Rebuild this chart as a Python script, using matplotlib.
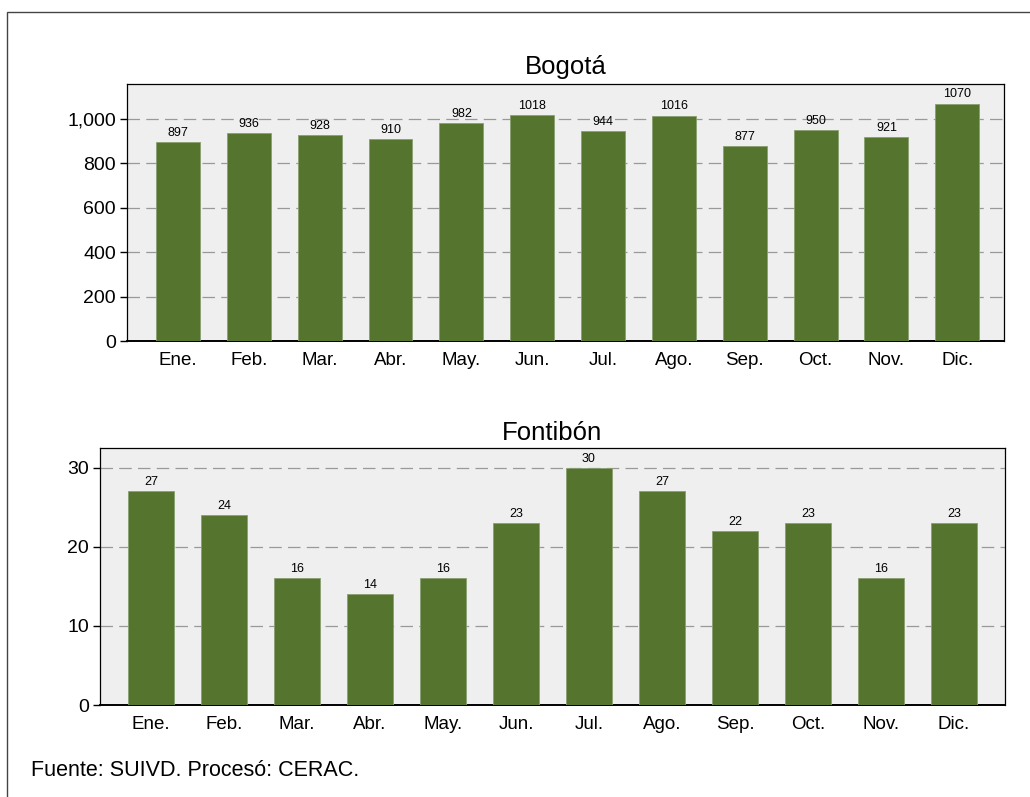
import numpy as np
import matplotlib.pyplot as plt
from matplotlib.patches import Rectangle

plt.rcParams['font.family'] = ['Liberation Sans', 'DejaVu Sans']

meses = ["Ene.", "Feb.", "Mar.", "Abr.", "May.", "Jun.", "Jul.", "Ago.", "Sep.", "Oct.", "Nov.", "Dic."]
bogota = [897, 936, 928, 910, 982, 1018, 944, 1016, 877, 950, 921, 1070]
fontibon = [27, 24, 16, 14, 16, 23, 30, 27, 22, 23, 16, 23]

verde = "#55752f"
fondo = "#efefef"

fig = plt.figure(figsize=(10.3, 7.97), dpi=100)
W, H = 1030, 797

# marco exterior
fig.patches.append(Rectangle((7 / W, -0.01), 1.02, 1 - 12 / H + 0.01, transform=fig.transFigure,
                             fill=False, edgecolor="#444444", linewidth=1.0))


def panel(rect, valores, ymax, yticks, ylabels, titulo, xmargen, pad):
    ax = fig.add_axes(rect)
    x = np.arange(len(meses))
    ax.set_facecolor(fondo)
    ax.bar(x, valores, width=0.62, color=verde, edgecolor="#8aa070", linewidth=0.6, zorder=3)
    for xi, v in zip(x, valores):
        ax.text(xi, v + ymax * 0.012, str(v), ha="center", va="bottom", fontsize=9, zorder=4)
    ax.set_xlim(-xmargen[0], len(meses) - 1 + xmargen[1])
    ax.set_ylim(0, ymax)
    ax.set_yticks(yticks)
    ax.set_yticklabels(ylabels, fontsize=14)
    ax.set_xticks(x)
    ax.set_xticklabels(meses, fontsize=13.5)
    ax.tick_params(axis="x", length=0, pad=8)
    ax.tick_params(axis="y", length=5, width=1, pad=3)
    ax.grid(axis="y", color="#999999", linestyle=(0, (10, 5)), linewidth=0.9, zorder=1)
    for s in ax.spines.values():
        s.set_linewidth(0.9)
    ax.spines["bottom"].set_linewidth(1.4)
    ax.set_title(titulo, fontsize=18.5, pad=pad)
    return ax


panel([127 / W, 1 - 341 / H, 877 / W, 257 / H], bogota, 1158,
      [0, 200, 400, 600, 800, 1000], ["0", "200", "400", "600", "800", "1,000"], "Bogotá", (0.72, 0.66), 7)
panel([100 / W, 1 - 705 / H, 905 / W, 257 / H], fontibon, 32.5,
      [0, 10, 20, 30], ["0", "10", "20", "30"], "Fontibón", (0.70, 0.70), 6)

fig.text(31 / W, 1 - 771 / H, "Fuente: SUIVD. Procesó: CERAC.", fontsize=15.5, va="center")

fig.savefig("out.png", dpi=100)
